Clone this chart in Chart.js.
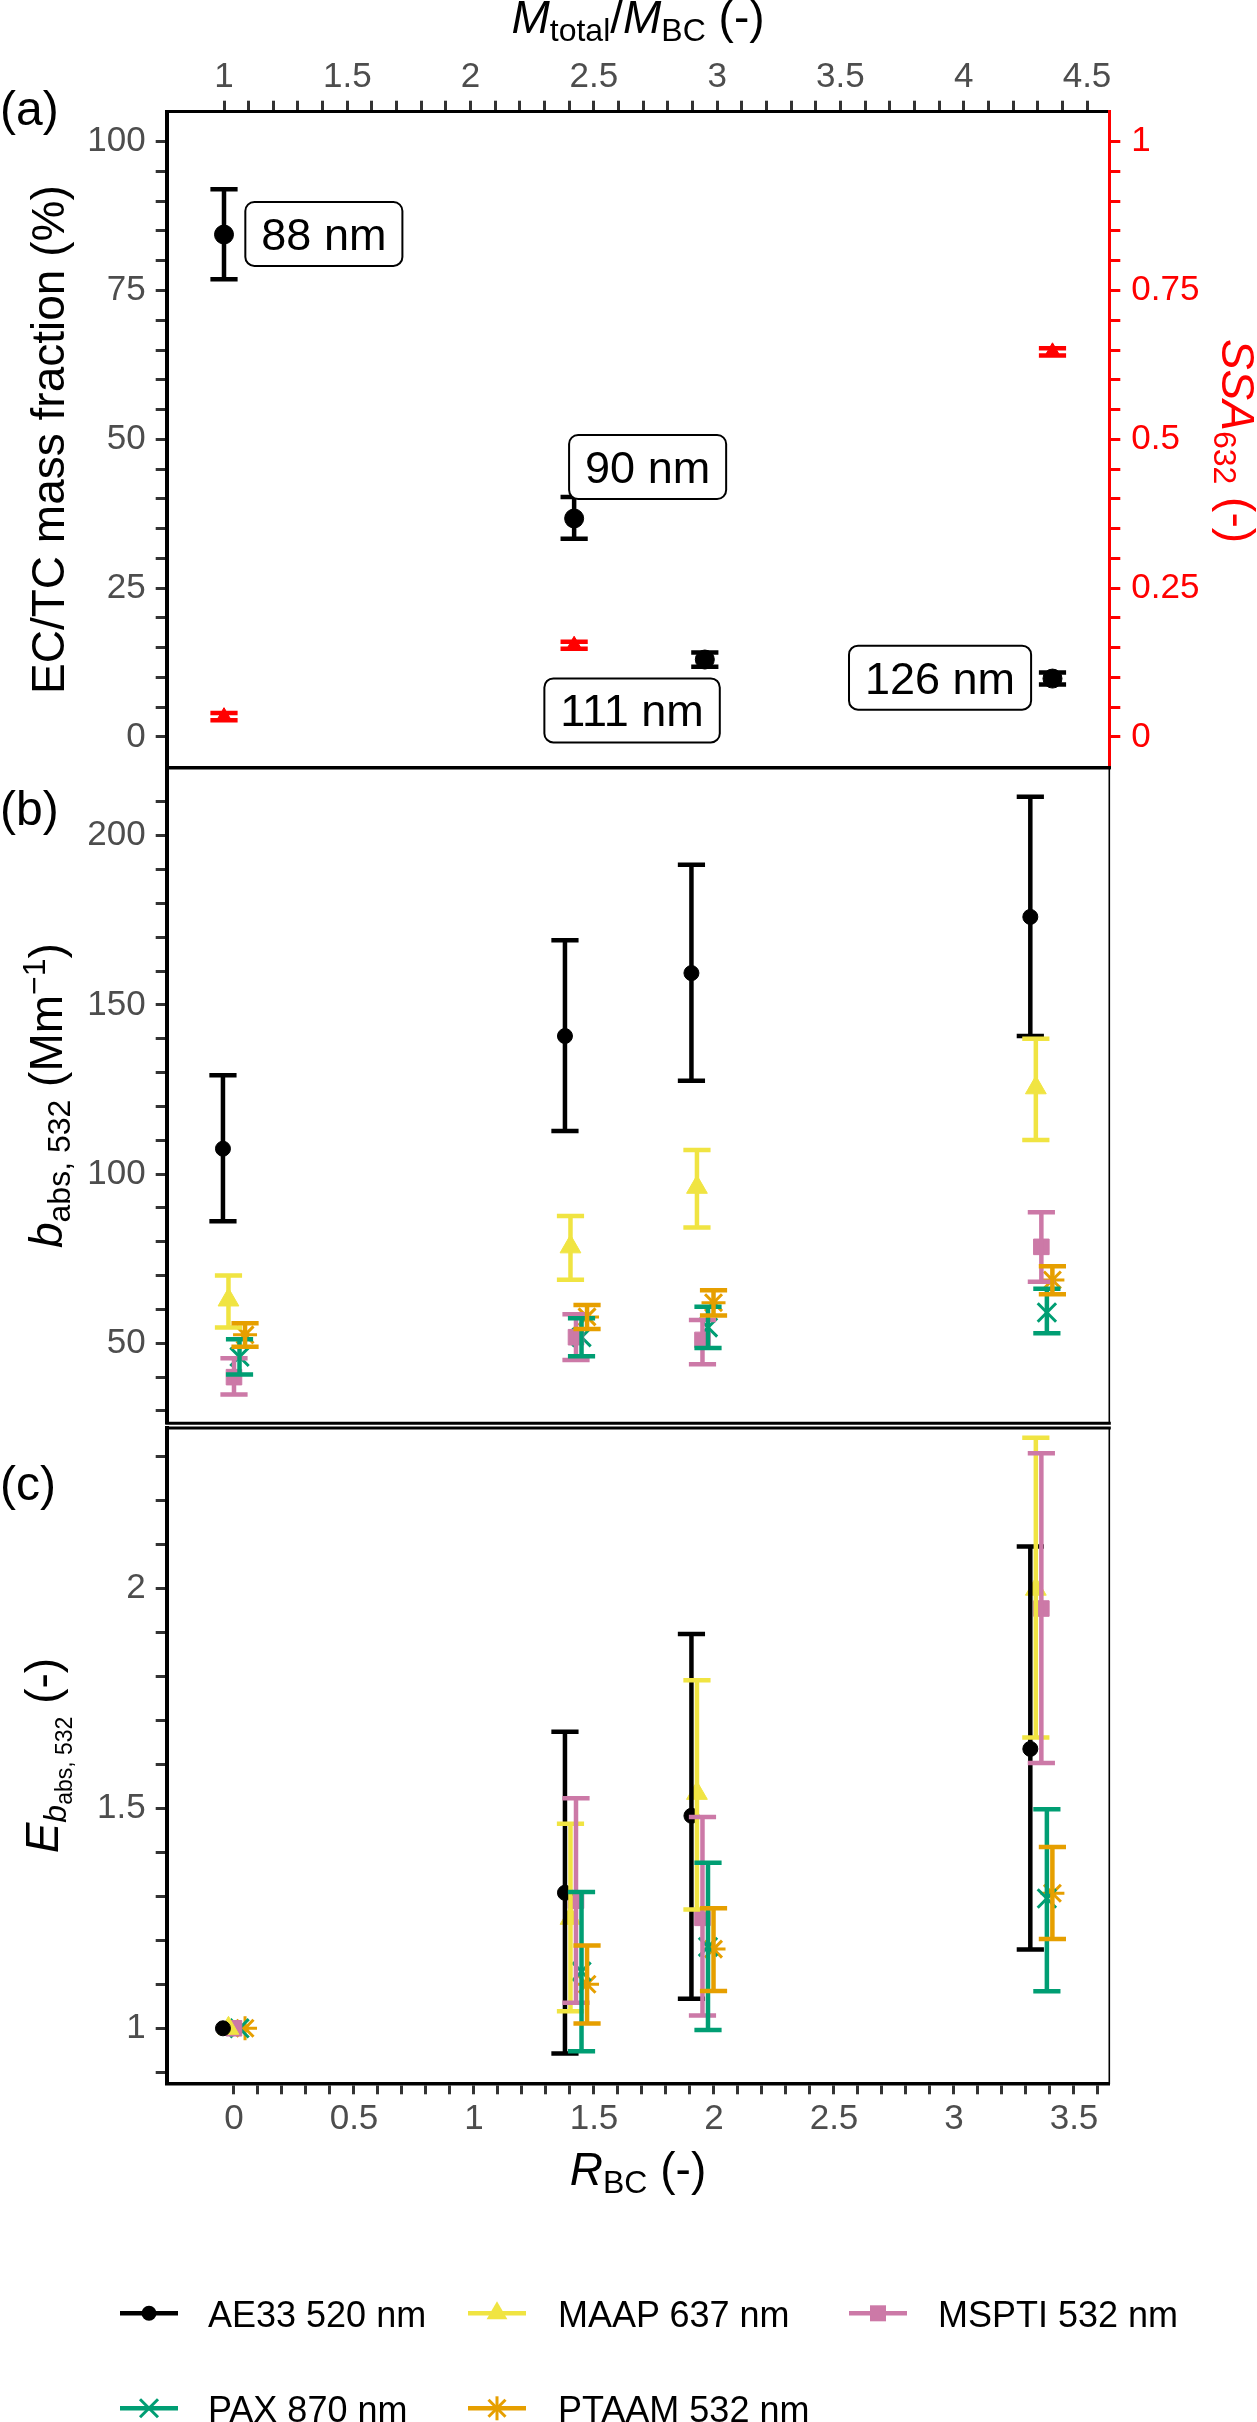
<!DOCTYPE html>
<html><head><meta charset="utf-8">
<script src="https://cdn.jsdelivr.net/npm/chart.js@4.4.1/dist/chart.umd.min.js"></script>
<style>
html,body{margin:0;padding:0;background:#fff;}
#page{position:relative;width:1257px;height:2422px;overflow:hidden;background:#fff;}
#page canvas{position:absolute;left:0;top:0;}
#ov{position:absolute;left:0;top:0;}
</style></head><body>
<div id="page">
<canvas id="cA" width="1257" height="2422"></canvas>
<canvas id="cB" width="1257" height="2422"></canvas>
<canvas id="cC" width="1257" height="2422"></canvas>
<svg id="ov" width="1257" height="2422" xmlns="http://www.w3.org/2000/svg" font-family="'Liberation Sans', Arial, Helvetica, sans-serif">
  <text x="0" y="125" font-size="48">(a)</text>
  <text x="0" y="825" font-size="48">(b)</text>
  <text x="0" y="1500" font-size="48">(c)</text>
  <text x="638" y="33" font-size="46" text-anchor="middle"><tspan font-style="italic">M</tspan><tspan font-size="32" dy="8">total</tspan><tspan dy="-8">/</tspan><tspan font-style="italic">M</tspan><tspan font-size="32" dy="8">BC</tspan><tspan dy="-8"> (-)</tspan></text>
  <text transform="translate(64,439.6) rotate(-90)" text-anchor="middle" font-size="46">EC/TC mass fraction (%)</text>
  <text transform="translate(1222,441) rotate(90)" text-anchor="middle" font-size="46" fill="#FF0000"><tspan font-style="italic">SSA</tspan><tspan font-size="32" dy="8">632</tspan><tspan dy="-8"> (-)</tspan></text>
  <text transform="translate(62,1095.6) rotate(-90)" text-anchor="middle" font-size="46"><tspan font-style="italic">b</tspan><tspan font-size="32" dy="8">abs, 532</tspan><tspan dy="-8"> (Mm</tspan><tspan font-size="32" dy="-17">−1</tspan><tspan dy="17">)</tspan></text>
  <text transform="translate(58,1755.6) rotate(-90)" text-anchor="middle" font-size="46"><tspan font-style="italic">E</tspan><tspan font-size="32" dy="8" font-style="italic">b</tspan><tspan font-size="23" dy="6">abs, 532</tspan><tspan dy="-14"> (-)</tspan></text>
  <text x="638" y="2185" font-size="46" text-anchor="middle"><tspan font-style="italic">R</tspan><tspan font-size="32" dy="8">BC</tspan><tspan dy="-8"> (-)</tspan></text>
  <g id="legend"></g>
</svg>
</div>
<script>
// ---------- data ----------
const instruments = ['AE33 520 nm', 'MAAP 637 nm', 'MSPTI 532 nm', 'PAX 870 nm', 'PTAAM 532 nm'];

// panel (a)
const mRatio = [1, 2.42, 2.95, 4.36];
const ecTc = [84.4, 36.7, 13.0, 9.8];
const ecTcLo = [76.9, 33.3, 11.8, 8.8];
const ecTcHi = [92.0, 40.3, 14.2, 10.8];
const ssaM = [1, 2.42, 4.36];
const ssa = [0.034, 0.154, 0.647];
const ssaLo = [0.028, 0.148, 0.641];
const ssaHi = [0.040, 0.160, 0.653];
const sizeLabels = ['88 nm', '90 nm', '111 nm', '126 nm'];
const sizeLabelX = [1.405, 2.718, 2.655, 3.904];
const sizeLabelY = [84.5, 45.35, 4.45, 9.95];

// panels (b) and (c): R_BC groups
const rBC = [0, 1.425, 1.952, 3.364];

const babsAE33 = [107.5, 140.8, 159.4, 176.0];
const babsAE33Lo = [86.1, 112.7, 127.6, 140.8];
const babsAE33Hi = [129.2, 169.1, 191.4, 211.5];
const babsMAAP = [62.8, 78.5, 96.1, 125.5];
const babsMAAPLo = [54.7, 68.8, 84.2, 110.1];
const babsMAAPHi = [70.0, 87.6, 107.1, 140.0];
const babsMSPTI = [40.0, 51.8, 51.0, 78.5];
const babsMSPTILo = [34.9, 45.1, 43.8, 68.2];
const babsMSPTIHi = [45.6, 58.6, 56.9, 88.7];
const babsPAX = [46.0, 51.8, 54.7, 59.1];
const babsPAXLo = [40.8, 46.2, 48.6, 53.0];
const babsPAXHi = [51.2, 57.4, 60.8, 66.1];
const babsPTAAM = [52.5, 57.8, 62.0, 68.7];
const babsPTAAMLo = [49.0, 54.2, 58.2, 64.5];
const babsPTAAMHi = [55.9, 61.3, 65.7, 72.8];

const eAE33 = [1.0, 1.308, 1.483, 1.635];
const eAE33Lo = [null, 0.943, 1.067, 1.179];
const eAE33Hi = [null, 1.674, 1.896, 2.095];
const eMAAP = [1.0, 1.25, 1.534, 1.998];
const eMAAPLo = [null, 1.039, 1.27, 1.661];
const eMAAPHi = [null, 1.465, 1.791, 2.342];
const eMSPTI = [1.0, 1.29, 1.251, 1.954];
const eMSPTILo = [null, 1.058, 1.029, 1.603];
const eMSPTIHi = [null, 1.523, 1.48, 2.307];
const ePAX = [1.0, 1.129, 1.185, 1.295];
const ePAXLo = [null, 0.948, 0.996, 1.084];
const ePAXHi = [null, 1.31, 1.376, 1.498];
const ePTAAM = [1.0, 1.10, 1.18, 1.307];
const ePTAAMLo = [null, 1.011, 1.085, 1.203];
const ePTAAMHi = [null, 1.188, 1.273, 1.412];

// tick labels
const topMajor = [1, 1.5, 2, 2.5, 3, 3.5, 4, 4.5];
const ecMajor = [0, 25, 50, 75, 100];
const ssaMajor = [0, 0.25, 0.5, 0.75, 1];
const babsMajor = [50, 100, 150, 200];
const eMajor = [1, 1.5, 2];
const rMajor = [0, 0.5, 1, 1.5, 2, 2.5, 3, 3.5];

// ---------- style ----------
const FONT = "'Liberation Sans', Arial, Helvetica, sans-serif";
const colors = ['#000000', '#F0E442', '#CC79A7', '#009E73', '#E69F00'];
const shapes = ['circle', 'triangle', 'rect', 'crossRot', 'star'];
const radii = [7.5, 12, 11, 13, 12];
const dodge = [-0.046, -0.023, 0, 0.023, 0.046];
const W = 1257, H = 2422;
const PL = 166.7, PR = 1109.3;
const ERR_W = 4.5;

function tickList(start, end, step) {
  const out = []; const n = Math.round((end - start) / step);
  for (let i = 0; i <= n; i++) out.push({ value: +(start + i * step).toFixed(6) });
  return out;
}
function majorLabel(majors) {
  return (v) => { const m = majors.find(t => Math.abs(t - v) < 1e-6); return m === undefined ? '' : String(m); };
}
function axis(opts) {
  const col = opts.color || '#000';
  return Object.assign({
    type: 'linear', bounds: 'data',
    ticks: { callback: majorLabel(opts.majors), autoSkip: false, maxRotation: 0, minRotation: 0,
      color: opts.tickLabelColor || '#4D4D4D', font: { family: FONT, size: 35 }, padding: opts.pad },
    grid: { display: true, drawOnChartArea: false, drawTicks: true, tickLength: 11, tickWidth: 3,
      tickColor: opts.tickColor || '#333333' },
    border: { display: true, color: col, width: opts.bw || 3 },
    afterBuildTicks: s => { s.ticks = tickList(opts.t0, opts.t1, opts.ts); }
  }, opts.extra);
}

// ---------- plugins ----------
const errorBars = {
  id: 'errorBars',
  afterDatasetsDraw(chart) {
    const ctx = chart.ctx;
    chart.data.datasets.forEach((ds, di) => {
      if (!ds.errLo) return;
      const meta = chart.getDatasetMeta(di);
      const xs = chart.scales[meta.xAxisID], ys = chart.scales[meta.yAxisID];
      ctx.save();
      ctx.strokeStyle = ds.pointBorderColor; ctx.lineWidth = ERR_W; ctx.lineCap = 'butt';
      ds.data.forEach((p, i) => {
        const lo = ds.errLo[i], hi = ds.errHi[i];
        if (lo == null || hi == null) return;
        const px = xs.getPixelForValue(p.x), y1 = ys.getPixelForValue(lo), y2 = ys.getPixelForValue(hi);
        const hw = 13.6;
        ctx.beginPath();
        ctx.moveTo(px, y1); ctx.lineTo(px, y2);
        ctx.moveTo(px - hw, y1); ctx.lineTo(px + hw, y1);
        ctx.moveTo(px - hw, y2); ctx.lineTo(px + hw, y2);
        ctx.stroke();
      });
      ctx.restore();
    });
  }
};
const frame = {
  id: 'frame',
  afterDraw(chart, args, o) {
    const ctx = chart.ctx, a = chart.chartArea;
    ctx.save(); ctx.lineCap = 'square';
    const line = (x1, y1, x2, y2, w, c) => { ctx.strokeStyle = c; ctx.lineWidth = w; ctx.beginPath(); ctx.moveTo(x1, y1); ctx.lineTo(x2, y2); ctx.stroke(); };
    if (o.top) line(a.left, a.top, a.right, a.top, o.top, '#000');
    if (o.bottom) line(a.left, a.bottom, a.right, a.bottom, o.bottom, '#000');
    if (o.right) line(a.right, a.top, a.right, a.bottom, o.right, '#000');
    ctx.restore();
  }
};
const sizeLabelPlugin = {
  id: 'sizeLabels',
  afterDatasetsDraw(chart) {
    const ctx = chart.ctx, xs = chart.scales.x, ys = chart.scales.y;
    ctx.save();
    ctx.font = `45px ${FONT}`; ctx.textAlign = 'center'; ctx.textBaseline = 'alphabetic';
    sizeLabels.forEach((t, i) => {
      const cx = xs.getPixelForValue(sizeLabelX[i]), cy = ys.getPixelForValue(sizeLabelY[i]);
      const w = ctx.measureText(t).width + 32, h = 64, r = 9;
      const x0 = cx - w / 2, y0 = cy - h / 2;
      ctx.beginPath();
      ctx.moveTo(x0 + r, y0); ctx.lineTo(x0 + w - r, y0); ctx.arcTo(x0 + w, y0, x0 + w, y0 + r, r);
      ctx.lineTo(x0 + w, y0 + h - r); ctx.arcTo(x0 + w, y0 + h, x0 + w - r, y0 + h, r);
      ctx.lineTo(x0 + r, y0 + h); ctx.arcTo(x0, y0 + h, x0, y0 + h - r, r);
      ctx.lineTo(x0, y0 + r); ctx.arcTo(x0, y0, x0 + r, y0, r); ctx.closePath();
      ctx.fillStyle = '#fff'; ctx.fill();
      ctx.strokeStyle = '#000'; ctx.lineWidth = 2; ctx.stroke();
      ctx.fillStyle = '#000'; ctx.fillText(t, cx, cy + 16);
    });
    ctx.restore();
  }
};

function series(vals, lo, hi, s) {
  return {
    label: instruments[s],
    data: vals.map((v, i) => ({ x: rBC[i] + dodge[s], y: v })),
    errLo: lo, errHi: hi,
    pointStyle: shapes[s], pointRadius: radii[s],
    pointBackgroundColor: colors[s], pointBorderColor: colors[s],
    pointBorderWidth: s >= 3 ? 3 : 1
  };
}
const common = { responsive: false, animation: false, events: [], devicePixelRatio: 1,
  plugins: { legend: { display: false }, tooltip: { enabled: false } } };

// ---------- panel (a) ----------
new Chart(document.getElementById('cA'), {
  type: 'scatter',
  data: { datasets: [
    { label: 'EC/TC', data: mRatio.map((m, i) => ({ x: m, y: ecTc[i] })), errLo: ecTcLo, errHi: ecTcHi,
      xAxisID: 'x', yAxisID: 'y', pointStyle: 'circle', pointRadius: 9.5,
      pointBackgroundColor: '#000', pointBorderColor: '#000', pointBorderWidth: 1 },
    { label: 'SSA', data: ssaM.map((m, i) => ({ x: m, y: ssa[i] })), errLo: ssaLo, errHi: ssaHi,
      xAxisID: 'x', yAxisID: 'y2', pointStyle: 'triangle', pointRadius: 9,
      pointBackgroundColor: '#FF0000', pointBorderColor: '#FF0000', pointBorderWidth: 1 }
  ] },
  options: Object.assign({}, common, {
    layout: { padding: { top: 0, left: 0, right: 0, bottom: H - 767.5 } },
    plugins: Object.assign({}, common.plugins, { frame: { bottom: 3 } }),
    scales: {
      x: axis({ majors: topMajor, t0: 1, t1: 4.5, ts: 0.1, pad: 2, bw: 3,
        extra: { position: 'top', min: 0.7676, max: 4.5904, afterFit: s => { s.height = 111.7; } } }),
      y: axis({ majors: ecMajor, t0: 0, t1: 100, ts: 5, pad: 10, bw: 4,
        extra: { position: 'left', min: -5.14, max: 105.04, afterFit: s => { s.width = PL; } } }),
      y2: axis({ majors: ssaMajor, t0: 0, t1: 1, ts: 0.05, pad: 11, bw: 3, color: '#FF0000',
        tickLabelColor: '#FF0000', tickColor: '#FF0000',
        extra: { position: 'right', min: -0.0514, max: 1.0504, afterFit: s => { s.width = W - PR; } } })
    }
  }),
  plugins: [errorBars, sizeLabelPlugin, frame]
});

// ---------- panel (b) ----------
new Chart(document.getElementById('cB'), {
  type: 'scatter',
  data: { datasets: [
    series(babsAE33, babsAE33Lo, babsAE33Hi, 0),
    series(babsMAAP, babsMAAPLo, babsMAAPHi, 1),
    series(babsMSPTI, babsMSPTILo, babsMSPTIHi, 2),
    series(babsPAX, babsPAXLo, babsPAXHi, 3),
    series(babsPTAAM, babsPTAAMLo, babsPTAAMHi, 4)
  ] },
  options: Object.assign({}, common, {
    layout: { padding: { top: 768, left: 0, right: W - PR, bottom: H - 1423.3 } },
    plugins: Object.assign({}, common.plugins, { frame: { top: 3, right: 1.6, bottom: 3 } }),
    scales: {
      x: { type: 'linear', display: false, min: -0.2804, max: 3.6471 },
      y: axis({ majors: babsMajor, t0: 30, t1: 210, ts: 10, pad: 10, bw: 4,
        extra: { position: 'left', min: 26.36, max: 220.0, afterFit: s => { s.width = PL; } } })
    }
  }),
  plugins: [errorBars, frame]
});

// ---------- panel (c) ----------
new Chart(document.getElementById('cC'), {
  type: 'scatter',
  data: { datasets: [
    series(eAE33, eAE33Lo, eAE33Hi, 0),
    series(eMAAP, eMAAPLo, eMAAPHi, 1),
    series(eMSPTI, eMSPTILo, eMSPTIHi, 2),
    series(ePAX, ePAXLo, ePAXHi, 3),
    series(ePTAAM, ePTAAMLo, ePTAAMHi, 4)
  ] },
  options: Object.assign({}, common, {
    layout: { padding: { top: 1428, left: 0, right: W - PR, bottom: H - 2083.3 - 66.7 } },
    plugins: Object.assign({}, common.plugins, { frame: { top: 3, right: 1.6 } }),
    scales: {
      x: axis({ majors: rMajor, t0: 0, t1: 3.6, ts: 0.1, pad: 4, bw: 3.5,
        extra: { position: 'bottom', min: -0.2804, max: 3.6471, afterFit: s => { s.height = 66.7; } } }),
      y: axis({ majors: eMajor, t0: 0.9, t1: 2.3, ts: 0.1, pad: 10, bw: 4,
        extra: { position: 'left', min: 0.875, max: 2.3643, afterFit: s => { s.width = PL; } } })
    }
  }),
  plugins: [errorBars, frame]
});

// ---------- legend (svg) ----------
(function () {
  const NS = 'http://www.w3.org/2000/svg';
  const g = document.getElementById('legend');
  const rowY = [2313.3, 2408.3];
  const keyX = [120, 468, 849];
  const textX = [208, 558, 938];
  const el = (name, attrs) => { const e = document.createElementNS(NS, name); for (const k in attrs) e.setAttribute(k, attrs[k]); g.appendChild(e); return e; };
  instruments.forEach((name, s) => {
    const row = Math.floor(s / 3), col = s % 3;
    const y = rowY[row], x0 = keyX[col], x1 = x0 + 58, cx = (x0 + x1) / 2, c = colors[s];
    el('line', { x1: x0, y1: y, x2: x1, y2: y, stroke: c, 'stroke-width': 4.5 });
    if (shapes[s] === 'circle') el('circle', { cx: cx, cy: y, r: 7.5, fill: c });
    if (shapes[s] === 'triangle') el('polygon', { points: `${cx},${y - 12} ${cx - 10.4},${y + 6} ${cx + 10.4},${y + 6}`, fill: c });
    if (shapes[s] === 'rect') el('rect', { x: cx - 8, y: y - 8, width: 16, height: 16, fill: c });
    if (shapes[s] === 'crossRot') {
      el('line', { x1: cx - 9, y1: y - 9, x2: cx + 9, y2: y + 9, stroke: c, 'stroke-width': 3 });
      el('line', { x1: cx - 9, y1: y + 9, x2: cx + 9, y2: y - 9, stroke: c, 'stroke-width': 3 });
    }
    if (shapes[s] === 'star') {
      el('line', { x1: cx, y1: y - 12, x2: cx, y2: y + 12, stroke: c, 'stroke-width': 3 });
      el('line', { x1: cx - 8.5, y1: y - 8.5, x2: cx + 8.5, y2: y + 8.5, stroke: c, 'stroke-width': 3 });
      el('line', { x1: cx - 8.5, y1: y + 8.5, x2: cx + 8.5, y2: y - 8.5, stroke: c, 'stroke-width': 3 });
    }
    const t = el('text', { x: textX[col], y: y + 13.3, 'font-size': 36, fill: '#000' });
    t.textContent = name;
  });
})();
</script>
</body></html>
